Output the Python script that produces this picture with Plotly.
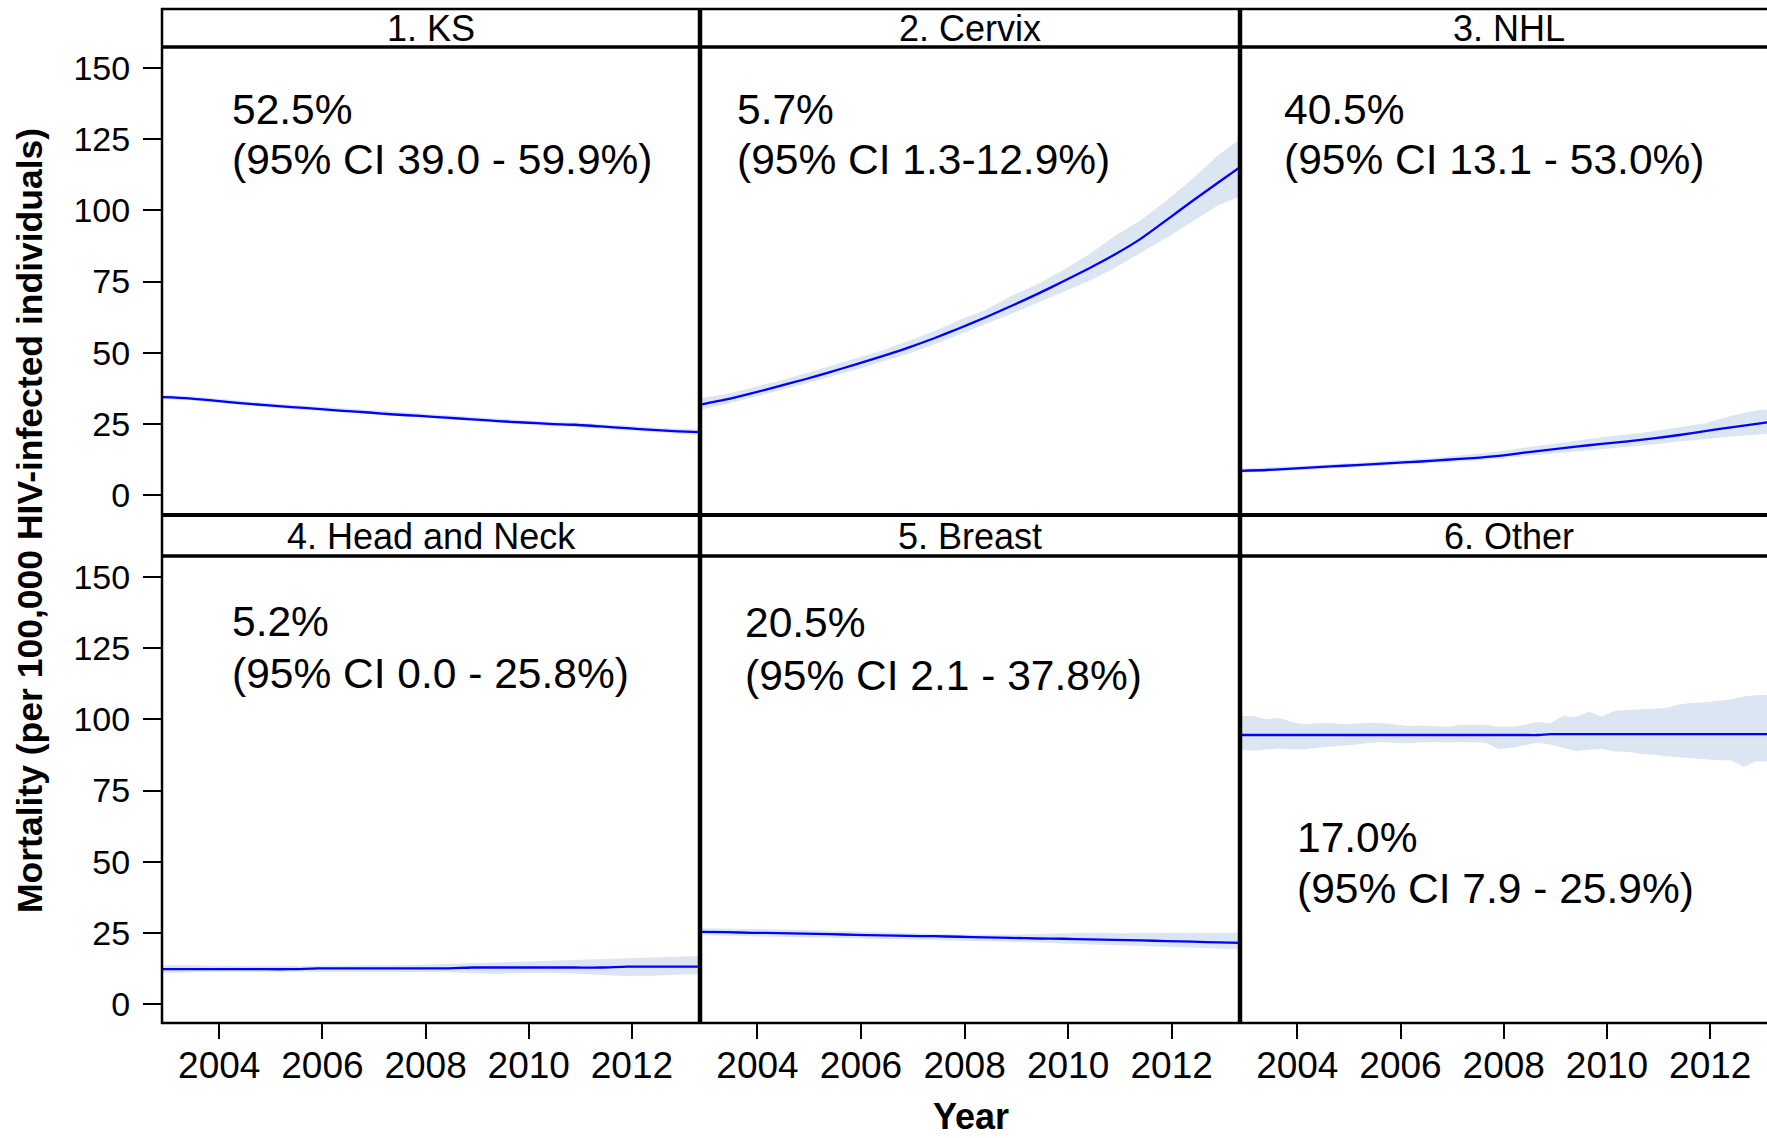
import plotly.graph_objects as go

# ---------------- data ----------------
PANEL_TITLES = ["1. KS", "2. Cervix", "3. NHL", "4. Head and Neck", "5. Breast", "6. Other"]
PANEL_PCT = ["52.5%", "5.7%", "40.5%", "5.2%", "20.5%", "17.0%"]
PANEL_CI = [
    "(95% CI 39.0 - 59.9%)",
    "(95% CI 1.3-12.9%)",
    "(95% CI 13.1 - 53.0%)",
    "(95% CI 0.0 - 25.8%)",
    "(95% CI 2.1 - 37.8%)",
    "(95% CI 7.9 - 25.9%)",
]

YEARS = [2002.9, 2003.4, 2003.9, 2004.4, 2004.9, 2005.4, 2005.9, 2006.4, 2006.9, 2007.4, 2007.9,
         2008.4, 2008.9, 2009.4, 2009.9, 2010.4, 2010.9, 2011.4, 2011.9, 2012.4, 2012.9, 2013.4]

KS_MID = [34.4, 34.0, 33.2, 32.3, 31.6, 30.9, 30.3, 29.6, 29.0, 28.3, 27.8,
          27.2, 26.6, 26.0, 25.5, 25.0, 24.7, 24.1, 23.5, 22.9, 22.4, 22.1]
KS_LO = [33.7, 33.3, 32.5, 31.6, 30.9, 30.2, 29.6, 28.9, 28.3, 27.6, 27.1,
         26.5, 25.9, 25.3, 24.7, 24.2, 23.9, 23.3, 22.7, 22.0, 21.5, 21.1]
KS_HI = [35.2, 34.8, 34.0, 33.1, 32.4, 31.7, 31.1, 30.4, 29.8, 29.1, 28.6,
         28.0, 27.4, 26.8, 26.3, 25.8, 25.5, 24.9, 24.3, 23.8, 23.3, 23.1]

CERVIX_MID = [31.8, 33.6, 35.8, 38.2, 40.6, 43.2, 45.9, 48.7, 51.7, 55.0, 58.6,
              62.4, 66.4, 70.6, 75.0, 79.6, 84.5, 90.0, 96.6, 103.3, 109.8, 116.2]
CERVIX_LO = [30.0, 32.0, 34.3, 36.6, 39.0, 41.5, 44.0, 46.8, 49.6, 52.8, 56.4,
             60.2, 63.6, 67.5, 71.3, 75.2, 79.8, 85.0, 90.4, 96.0, 101.8, 105.5]
CERVIX_HI = [34.0, 35.5, 37.8, 40.0, 42.6, 45.2, 48.0, 50.8, 54.0, 57.5, 61.5,
             65.0, 70.0, 74.0, 79.0, 84.5, 91.0, 96.5, 103.5, 111.0, 119.5, 126.0]

NHL_MID = [8.5, 8.8, 9.3, 9.8, 10.3, 10.8, 11.3, 11.8, 12.4, 13.0, 13.8,
           14.9, 16.0, 17.0, 18.0, 18.9, 19.9, 21.1, 22.5, 23.8, 25.0, 26.3]
NHL_LO = [7.8, 8.1, 8.6, 9.1, 9.6, 10.1, 10.5, 11.0, 11.5, 12.1, 12.8,
          13.6, 14.5, 15.3, 16.2, 17.0, 17.8, 18.8, 19.8, 20.6, 21.2, 22.0]
NHL_HI = [9.3, 9.6, 10.1, 10.6, 11.1, 11.6, 12.2, 12.8, 13.5, 14.3, 15.3,
          16.6, 17.9, 19.2, 20.3, 21.3, 22.4, 23.8, 25.2, 27.8, 29.8, 30.4]

HN_MID = [12.2, 12.2, 12.2, 12.2, 12.2, 12.2, 12.5, 12.5, 12.5, 12.5, 12.5,
          12.5, 12.8, 12.8, 12.8, 12.8, 12.8, 12.8, 13.1, 13.1, 13.1, 13.1]
HN_LO = [10.9, 11.2, 11.3, 11.3, 11.3, 11.3, 11.4, 11.4, 11.4, 11.3, 11.2,
         11.1, 10.8, 10.5, 10.9, 11.0, 10.6, 10.2, 9.8, 9.9, 10.3, 10.4]
HN_HI = [13.6, 13.7, 13.4, 13.3, 13.2, 13.3, 13.4, 13.4, 13.5, 13.6, 13.8,
         14.1, 14.4, 14.7, 15.0, 15.3, 15.5, 15.8, 16.1, 16.4, 16.7, 16.9]

BREAST_MID = [25.3, 25.2, 25.0, 24.9, 24.7, 24.5, 24.3, 24.1, 23.9, 23.8, 23.6,
              23.4, 23.2, 23.0, 22.9, 22.7, 22.5, 22.3, 22.1, 21.9, 21.6, 21.4]
BREAST_LO = [24.1, 24.0, 23.8, 23.6, 23.4, 23.2, 23.0, 22.9, 22.8, 22.6, 22.4,
             22.2, 22.0, 21.6, 21.2, 20.9, 20.7, 20.5, 20.2, 19.9, 19.5, 19.2]
BREAST_HI = [26.6, 26.5, 26.4, 26.3, 26.0, 25.7, 25.4, 25.1, 24.8, 24.6, 24.4,
             24.3, 24.3, 24.6, 24.9, 25.0, 24.8, 24.9, 25.0, 25.0, 25.0, 25.0]

# "Other" is shown at quarterly resolution
YEARS_Q = [2002.9, 2003.15, 2003.4, 2003.65, 2003.9, 2004.15, 2004.4, 2004.65, 2004.9, 2005.15,
           2005.4, 2005.65, 2005.9, 2006.15, 2006.4, 2006.65, 2006.9, 2007.15, 2007.4, 2007.65,
           2007.9, 2008.15, 2008.4, 2008.65, 2008.9, 2009.15, 2009.4, 2009.65, 2009.9, 2010.15,
           2010.4, 2010.65, 2010.9, 2011.15, 2011.4, 2011.65, 2011.9, 2012.15, 2012.4, 2012.65,
           2012.9, 2013.15, 2013.4]
OTHER_MID = [94.5, 94.5, 94.5, 94.5, 94.5, 94.5, 94.5, 94.5, 94.5, 94.5,
             94.5, 94.5, 94.5, 94.5, 94.5, 94.5, 94.5, 94.5, 94.5, 94.5,
             94.5, 94.5, 94.5, 94.5, 94.8, 94.8, 94.8, 94.8, 94.8, 94.8,
             94.8, 94.8, 94.8, 94.8, 94.8, 94.8, 94.8, 94.8, 94.8, 94.8,
             94.8, 94.8, 94.8]
OTHER_LO = [89.4, 89.0, 89.4, 89.8, 89.5, 89.4, 90.0, 90.4, 90.6, 91.2,
            91.7, 92.0, 91.7, 91.6, 91.9, 92.0, 91.8, 92.0, 91.9, 91.8,
            89.6, 90.0, 90.8, 91.8, 91.2, 90.0, 88.8, 89.3, 89.7, 88.7,
            88.6, 87.9, 87.6, 87.0, 86.7, 86.2, 85.9, 85.6, 85.6, 83.3,
            85.4, 85.0, 85.0]
OTHER_HI = [101.2, 101.2, 100.0, 100.6, 99.0, 98.3, 98.6, 98.7, 98.3, 98.5,
            98.8, 98.7, 98.2, 97.7, 97.8, 97.6, 97.4, 98.0, 98.1, 98.1,
            97.4, 97.5, 98.0, 99.1, 98.6, 101.2, 100.8, 102.7, 101.0, 103.0,
            103.3, 103.5, 103.6, 104.0, 105.2, 105.8, 106.0, 106.4, 107.0, 108.0,
            108.6, 108.6, 108.6]

Y_TICKS = [0, 25, 50, 75, 100, 125, 150]
X_TICKS = [2004, 2006, 2008, 2010, 2012]

SERIES = [
    (YEARS, KS_MID, KS_LO, KS_HI),
    (YEARS, CERVIX_MID, CERVIX_LO, CERVIX_HI),
    (YEARS, NHL_MID, NHL_LO, NHL_HI),
    (YEARS, HN_MID, HN_LO, HN_HI),
    (YEARS, BREAST_MID, BREAST_LO, BREAST_HI),
    (YEARS_Q, OTHER_MID, OTHER_LO, OTHER_HI),
]

# ---------------- layout geometry (pixels) ----------------
W, H = 1767, 1138
FONT = "Liberation Sans, Arial, Helvetica, sans-serif"
LINE_BLUE = "#0000FF"
BAND = "rgb(220,230,242)"

COLS = [(162, 700), (700, 1240), (1240, 1767)]
PANEL_ROWS = [(47, 515), (556, 1023)]
STRIP_ROWS = [(9, 47), (515, 556)]
X_RANGES = [[2002.89, 2013.32], [2002.89, 2013.32], [2002.89, 2013.10]]
Y_RANGES = [[-7.0, 157.4], [-6.7, 157.4]]
STRIP_CENTERS = [431, 970, 1509]
# left edge, centre of first line, centre of second line
NOTE_POS = [(231, 110, 160), (736, 110, 160), (1283, 110, 160),
            (231, 621, 674), (744, 622, 675), (1296, 837, 888)]


def fx(p):
    return p / W


def fy(p):
    return 1 - p / H


fig = go.Figure()
layout = dict(
    width=W, height=H,
    margin=dict(l=0, r=0, t=0, b=0),
    paper_bgcolor="white", plot_bgcolor="white",
    showlegend=False,
    font=dict(family=FONT, color="black"),
)

for i, (xs, mid, lo, hi) in enumerate(SERIES):
    r, c = divmod(i, 3)
    k = "" if i == 0 else str(i + 1)
    xa, ya = "x" + k, "y" + k
    fig.add_trace(go.Scatter(x=xs, y=hi, mode="lines", line=dict(width=0, color=BAND),
                             xaxis=xa, yaxis=ya, hoverinfo="skip"))
    fig.add_trace(go.Scatter(x=xs, y=lo, mode="lines", line=dict(width=0, color=BAND),
                             fill="tonexty", fillcolor=BAND,
                             xaxis=xa, yaxis=ya, hoverinfo="skip"))
    fig.add_trace(go.Scatter(x=xs, y=mid, mode="lines",
                             line=dict(width=2.3, color=LINE_BLUE, shape="spline", smoothing=0.6),
                             xaxis=xa, yaxis=ya))

    x0, x1 = COLS[c]
    y0, y1 = PANEL_ROWS[r]
    xaxis = dict(
        domain=[fx(x0), fx(x1)], range=X_RANGES[c], anchor=ya,
        showgrid=False, zeroline=False, showline=False, fixedrange=True,
    )
    if r == 1:
        xaxis.update(tickmode="array", tickvals=X_TICKS, ticks="outside", ticklen=15,
                     tickwidth=2, tickcolor="black", showticklabels=True,
                     tickfont=dict(family=FONT, size=37, color="black"),
                     ticklabelstandoff=-5)
    else:
        xaxis.update(showticklabels=False, ticks="")
    yaxis = dict(
        domain=[fy(y1), fy(y0)], range=Y_RANGES[r], anchor=xa,
        showgrid=False, zeroline=False, showline=False, fixedrange=True,
    )
    if c == 0:
        yaxis.update(tickmode="array", tickvals=Y_TICKS, ticks="outside", ticklen=18,
                     tickwidth=2, tickcolor="black", showticklabels=True,
                     tickfont=dict(family=FONT, size=34, color="black"),
                     ticklabelstandoff=6)
    else:
        yaxis.update(showticklabels=False, ticks="")
    layout["xaxis" + k] = xaxis
    layout["yaxis" + k] = yaxis

# panel frames and strip boxes
shapes = []


def hline(y, x0, x1, w):
    shapes.append(dict(type="line", xref="paper", yref="paper", x0=fx(x0), x1=fx(x1),
                       y0=fy(y), y1=fy(y), line=dict(color="black", width=w), layer="above"))


def vline(x, y0, y1, w):
    shapes.append(dict(type="line", xref="paper", yref="paper", x0=fx(x), x1=fx(x),
                       y0=fy(y0), y1=fy(y1), line=dict(color="black", width=w), layer="above"))


hline(9, 161, W, 2.5)
hline(47, 161, W, 3.5)
hline(515, 161, W, 4)
hline(556, 161, W, 3.5)
hline(1023, 161, W, 2.5)
vline(162, 8, 1024, 2.5)
vline(700, 8, 1024, 4.5)
vline(1240, 8, 1024, 4.5)
layout["shapes"] = shapes

annotations = []
for i, title in enumerate(PANEL_TITLES):
    r, c = divmod(i, 3)
    s0, s1 = STRIP_ROWS[r]
    annotations.append(dict(text=title, xref="paper", yref="paper",
                            x=fx(STRIP_CENTERS[c]), y=fy((s0 + s1) / 2 + 1),
                            xanchor="center", yanchor="middle", showarrow=False,
                            font=dict(family=FONT, size=36, color="black")))
for i in range(len(PANEL_PCT)):
    nx, ny1, ny2 = NOTE_POS[i]
    for txt, ny in ((PANEL_PCT[i], ny1), (PANEL_CI[i], ny2)):
        annotations.append(dict(text=txt, xref="paper", yref="paper", x=fx(nx), y=fy(ny),
                                xanchor="left", yanchor="middle", align="left", showarrow=False,
                                borderpad=0,
                                font=dict(family=FONT, size=42.5, color="black")))

annotations.append(dict(text="<b>Year</b>", xref="paper", yref="paper", x=fx(971), y=fy(1138),
                        xanchor="center", yanchor="bottom", showarrow=False, borderpad=0,
                        font=dict(family=FONT, size=36, color="black")))
annotations.append(dict(text="<b>Mortality (per 100,000 HIV-infected individuals)</b>",
                        xref="paper", yref="paper", x=fx(30), y=fy(521), textangle=-90,
                        xanchor="center", yanchor="middle", showarrow=False,
                        font=dict(family=FONT, size=35.5, color="black")))
layout["annotations"] = annotations

fig.update_layout(**layout)
fig.write_html("out.html")
